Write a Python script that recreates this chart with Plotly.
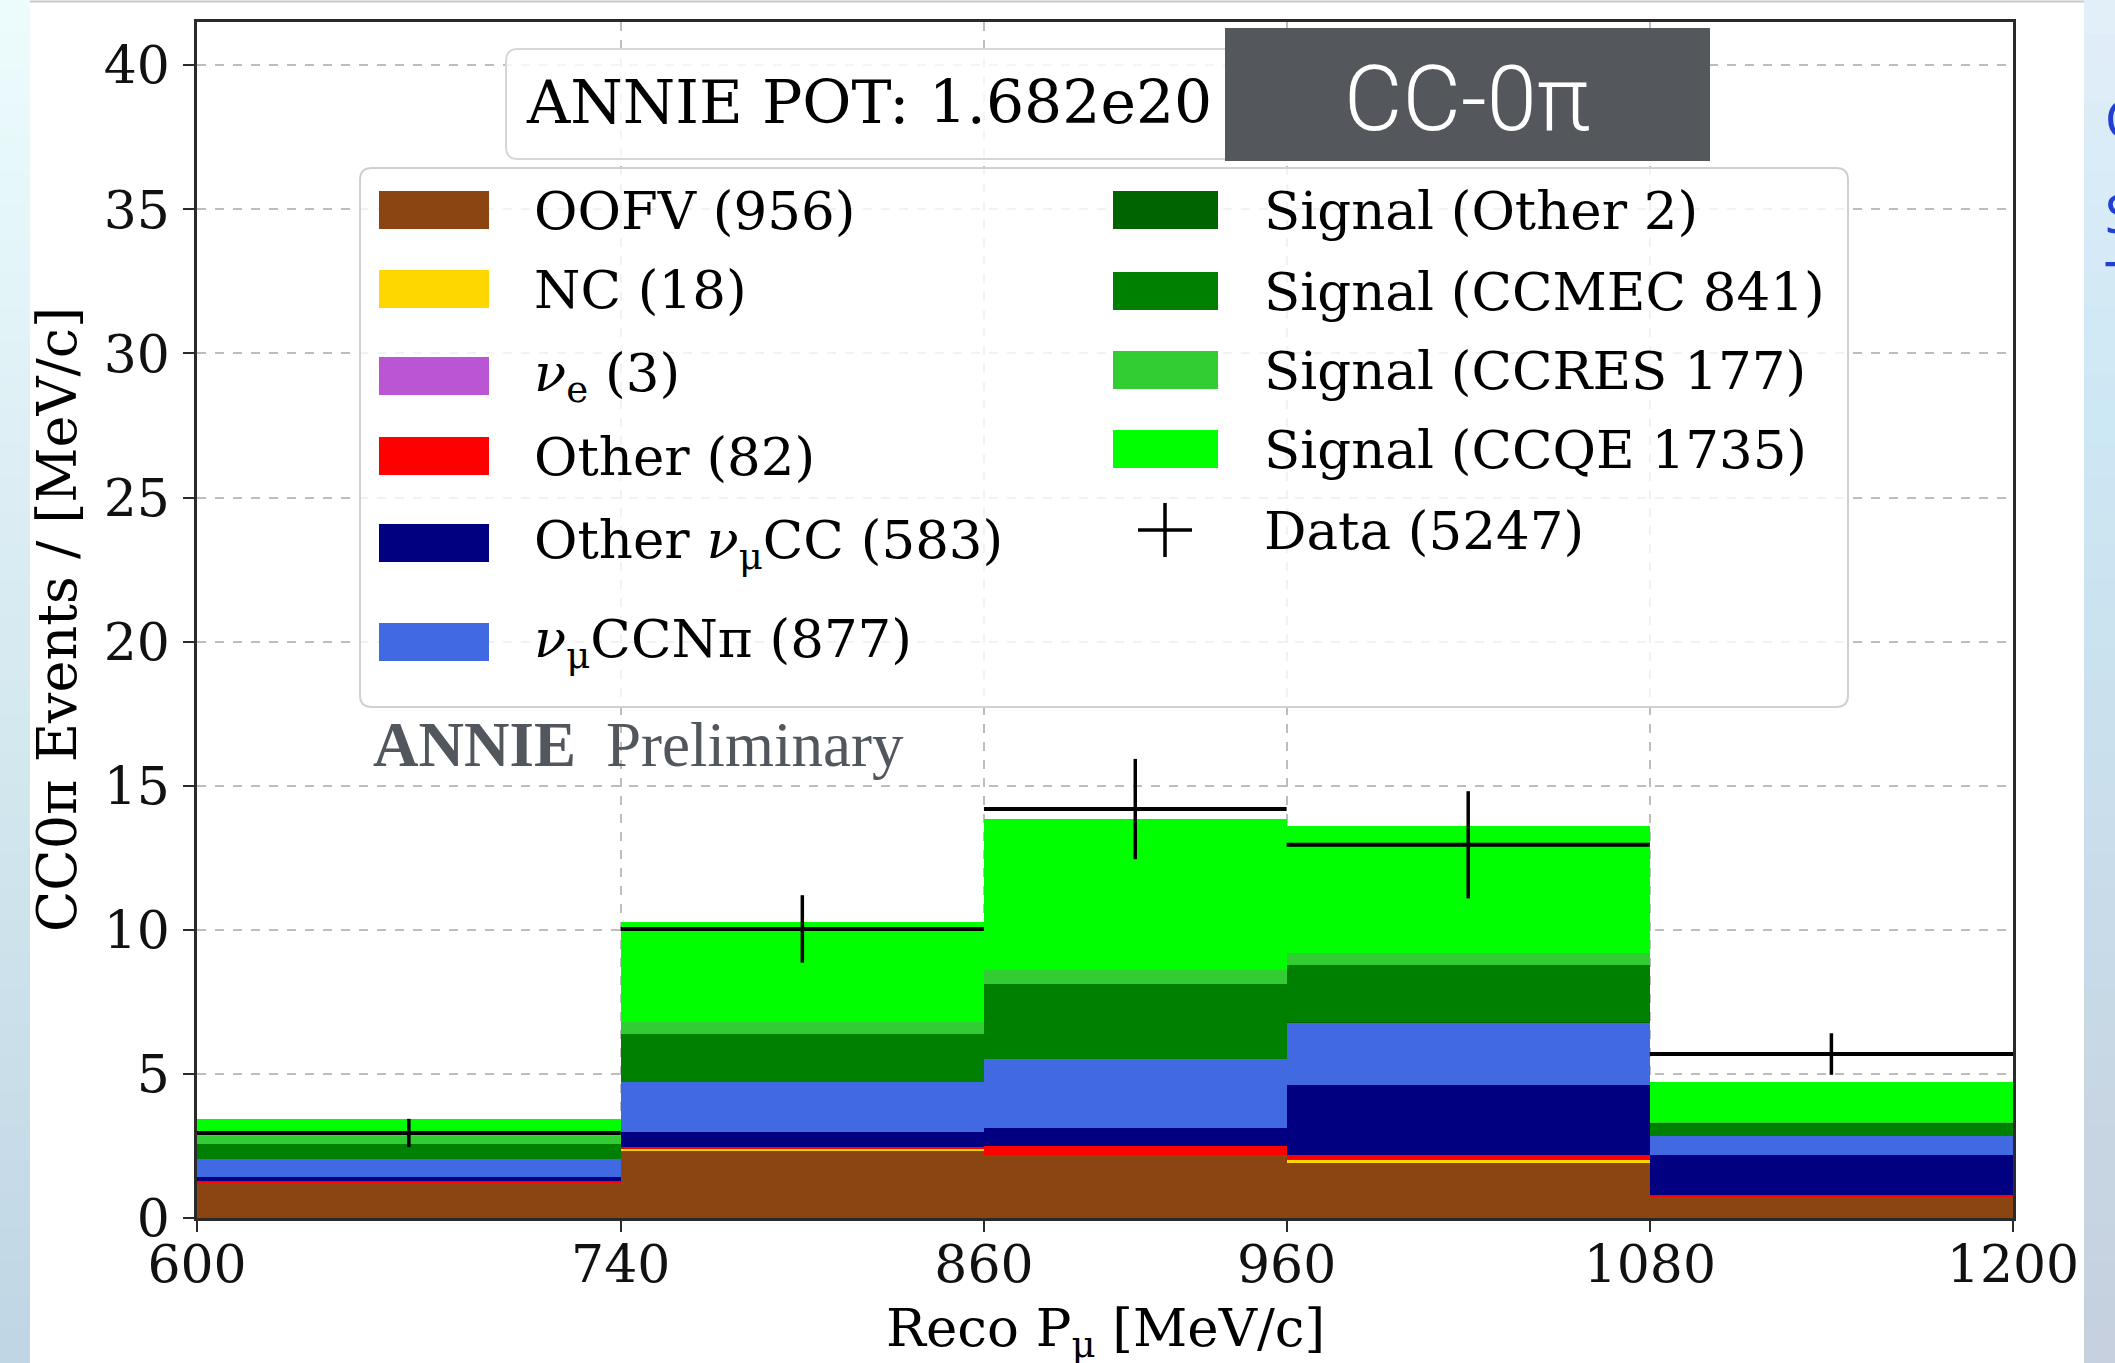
import plotly.graph_objects as go

# ---- binning (Reco muon momentum, MeV/c) ----
bin_edges = [600, 740, 860, 960, 1080, 1200]

# ---- stacked MC components, events per MeV/c in each bin ----
oofv = [1.24, 2.34, 2.20, 1.90, 0.72]
nc = [0.0, 0.07, 0.0, 0.12, 0.0]
nu_e = [0.0, 0.0, 0.0, 0.01, 0.0]
other = [0.06, 0.07, 0.31, 0.17, 0.07]
other_numu_cc = [0.11, 0.50, 0.62, 2.43, 1.38]
numu_ccnpi = [0.64, 1.73, 2.39, 2.15, 0.69]
signal_other2 = [0.0, 0.0, 0.0, 0.01, 0.0]
signal_ccmec = [0.52, 1.68, 2.60, 1.99, 0.46]
signal_ccres = [0.29, 0.40, 0.49, 0.40, 0.01]
signal_ccqe = [0.58, 3.47, 5.23, 4.41, 1.38]

# ---- data points ----
data = [2.95, 10.03, 14.19, 12.95, 5.69]
data_err = [0.49, 1.17, 1.74, 1.86, 0.72]

y_ticks = [0, 5, 10, 15, 20, 25, 30, 35, 40]

# legend labels (event counts)
lbl_oofv = "OOFV (956)"
lbl_nc = "NC (18)"
lbl_nue = "<i>ν</i><sub>e</sub> (3)"
lbl_other = "Other (82)"
lbl_onumu = "Other <i>ν</i><sub>μ</sub>CC (583)"
lbl_npi = "<i>ν</i><sub>μ</sub>CCNπ (877)"
lbl_sig_o2 = "Signal (Other 2)"
lbl_sig_mec = "Signal (CCMEC 841)"
lbl_sig_res = "Signal (CCRES 177)"
lbl_sig_qe = "Signal (CCQE 1735)"
lbl_data = "Data (5247)"

centers = [(a + b) / 2 for a, b in zip(bin_edges[:-1], bin_edges[1:])]
widths = [b - a for a, b in zip(bin_edges[:-1], bin_edges[1:])]

components = [
    (oofv, "#8B4513", lbl_oofv),
    (nc, "#FFD700", lbl_nc),
    (nu_e, "#BA55D3", lbl_nue),
    (other, "#FF0000", lbl_other),
    (other_numu_cc, "#000080", lbl_onumu),
    (numu_ccnpi, "#4169E1", lbl_npi),
    (signal_other2, "#006400", lbl_sig_o2),
    (signal_ccmec, "#008000", lbl_sig_mec),
    (signal_ccres, "#32CD32", lbl_sig_res),
    (signal_ccqe, "#00FF00", lbl_sig_qe),
]

FIG_W, FIG_H = 2115, 1363
L, R, T, B = 197, 2013, 22, 1218
PW, PH = R - L, B - T
SERIF = "DejaVu Serif"


def px(x):
    return (x - L) / PW


def py(y):
    return (B - y) / PH


fig = go.Figure()

for vals, color, name in components:
    fig.add_trace(go.Bar(
        x=centers, y=vals, width=widths, name=name,
        marker=dict(color=color, line=dict(width=0)),
        showlegend=False,
    ))

fig.add_trace(go.Scatter(
    x=centers, y=data, mode="markers", name=lbl_data,
    marker=dict(size=1, color="black"),
    error_x=dict(type="data", array=[w / 2 for w in widths], thickness=4, width=0, color="black"),
    error_y=dict(type="data", array=data_err, thickness=3.5, width=0, color="black"),
    showlegend=False,
))

shapes = []


def rrect(x0, y0, x1, y1, r, fill, line_color, line_w):
    X0, X1, Y0, Y1 = px(x0), px(x1), py(y0), py(y1)
    rx, ry = r / PW, r / PH
    path = (f"M {X0 + rx},{Y0} L {X1 - rx},{Y0} Q {X1},{Y0} {X1},{Y0 - ry} "
            f"L {X1},{Y1 + ry} Q {X1},{Y1} {X1 - rx},{Y1} L {X0 + rx},{Y1} "
            f"Q {X0},{Y1} {X0},{Y1 + ry} L {X0},{Y0 - ry} Q {X0},{Y0} {X0 + rx},{Y0} Z")
    return dict(type="path", path=path, xref="paper", yref="paper",
                fillcolor=fill, line=dict(color=line_color, width=line_w), layer="above")


def rect(x0, y0, x1, y1, fill, line_w=0, line_color=None):
    return dict(type="rect", xref="paper", yref="paper",
                x0=px(x0), x1=px(x1), y0=py(y1), y1=py(y0),
                fillcolor=fill, line=dict(width=line_w, color=line_color), layer="above")


def lerp(c0, c1, t):
    return "#%02x%02x%02x" % tuple(int(round(a + (b - a) * t)) for a, b in zip(c0, c1))


# slide side strips (vertical gradient)
n_band = 40
for i in range(n_band):
    t = i / (n_band - 1)
    y0 = FIG_H * i / n_band
    y1 = FIG_H * (i + 1) / n_band + 1
    shapes.append(rect(0, y0, 30, y1, lerp((236, 252, 253), (192, 214, 228), t)))
    if t < 0.3:
        col = lerp((226, 238, 248), (204, 232, 244), t / 0.3)
    else:
        col = lerp((204, 232, 244), (198, 208, 222), (t - 0.3) / 0.7)
    shapes.append(rect(2084, y0, FIG_W, y1, col))

# thin line along the top of the slide
shapes.append(dict(type="line", xref="paper", yref="paper",
                   x0=px(30), x1=px(2084), y0=py(1.5), y1=py(1.5),
                   line=dict(color="#c8c8c8", width=2), layer="above"))

# POT box and channel label box
shapes.append(rrect(506, 49, 1300, 159, 12, "rgba(255,255,255,0.85)", "#d6d6d6", 2))
shapes.append(rect(1225, 28, 1710, 161, "#54585d"))

# legend frame
shapes.append(rrect(360, 168, 1848, 707, 12, "rgba(255,255,255,0.8)", "#d0d0d0", 2))

annotations = []


def text(x, y, s, size, color="black", family=SERIF, xanchor="left", yanchor="middle", angle=0, weight=None):
    font = dict(family=family, size=size, color=color)
    if weight is not None:
        font["weight"] = weight
    annotations.append(dict(x=px(x), y=py(y), xref="paper", yref="paper", text=s,
                            showarrow=False, xanchor=xanchor, yanchor=yanchor,
                            textangle=angle, font=font))


# legend entries, column 1
col1 = [(lbl_oofv, "#8B4513", 210), (lbl_nc, "#FFD700", 289), (lbl_nue, "#BA55D3", 376),
        (lbl_other, "#FF0000", 456), (lbl_onumu, "#000080", 543), (lbl_npi, "#4169E1", 642)]
for s, c, yc in col1:
    shapes.append(rect(379, yc - 19, 489, yc + 19, c))
    text(532, yc, s, 53)

# legend entries, column 2
col2 = [(lbl_sig_o2, "#006400", 210), (lbl_sig_mec, "#008000", 291),
        (lbl_sig_res, "#32CD32", 370), (lbl_sig_qe, "#00FF00", 449)]
for s, c, yc in col2:
    shapes.append(rect(1113, yc - 19, 1218, yc + 19, c))
    text(1262, yc, s, 53)

# data marker in legend
shapes.append(dict(type="line", xref="paper", yref="paper", x0=px(1138), x1=px(1192),
                   y0=py(530), y1=py(530), line=dict(color="black", width=3.5), layer="above"))
shapes.append(dict(type="line", xref="paper", yref="paper", x0=px(1165), x1=px(1165),
                   y0=py(503), y1=py(557), line=dict(color="black", width=3.5), layer="above"))
text(1262, 530, lbl_data, 53)

# box texts
text(524, 102, "ANNIE POT: 1.682e20", 60)
text(1467, 100, "CC-0π", 90, color="white", family="Roboto", xanchor="center", weight=300)

# watermark
text(371, 745, "<b>ANNIE</b>", 63, color="#52575d", family="Liberation Serif")
text(604, 745, "Preliminary", 63, color="#52575d", family="Liberation Serif")

# axis titles
text(1105, 1331, "Reco P<sub>μ</sub> [MeV/c]", 53, xanchor="center")
text(57, 620, "CC0π Events / [MeV/c]", 54, xanchor="center", angle=-90)

# partial glyphs at the right edge of the slide
text(2103, 118, "C", 52, color="#1f3fd6", family="Noto Sans")
text(2103, 213, "S", 52, color="#1f3fd6", family="Noto Sans")
text(2103, 280, "T", 52, color="#1f3fd6", family="Noto Sans")

axis_common = dict(
    showline=True, mirror=True, linecolor="#2a2a2a", linewidth=2.5,
    ticks="outside", ticklen=11, tickwidth=2, tickcolor="#2a2a2a",
    tickfont=dict(family=SERIF, size=52, color="#111"),
    showgrid=True, gridcolor="#bdbdbd", gridwidth=1.6, griddash="dash",
    zeroline=False, layer="above traces",
)

fig.update_layout(
    width=FIG_W, height=FIG_H,
    margin=dict(l=L, r=FIG_W - R, t=T, b=FIG_H - B, pad=0),
    paper_bgcolor="white", plot_bgcolor="white",
    barmode="stack", bargap=0,
    showlegend=False,
    xaxis=dict(range=[bin_edges[0], bin_edges[-1]], tickmode="array",
               tickvals=bin_edges, ticktext=[str(v) for v in bin_edges],
               ticklabelstandoff=-12, **axis_common),
    yaxis=dict(range=[0, 41.5], tickmode="array", tickvals=y_ticks,
               ticktext=[str(v) for v in y_ticks], ticklabelstandoff=3, **axis_common),
    shapes=shapes,
    annotations=annotations,
)

fig.write_html("out.html")
